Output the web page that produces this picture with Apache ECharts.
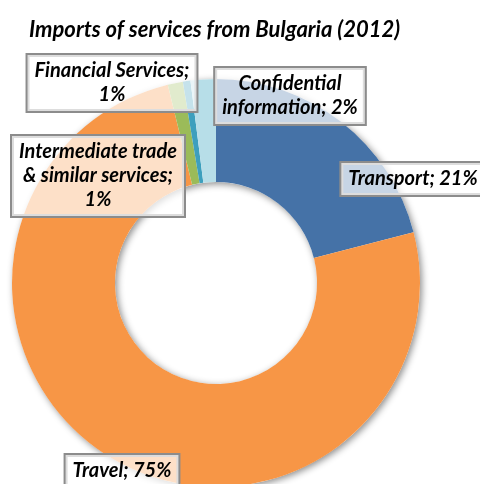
<!DOCTYPE html>
<html>
<head>
<meta charset="utf-8">
<script src="https://cdn.jsdelivr.net/npm/echarts@6/dist/echarts.min.js"></script>
<style>
  html, body { margin: 0; padding: 0; background: #fff; }
  #chart { width: 480px; height: 484px; }
</style>
</head>
<body>
<div id="chart"></div>
<script>
// slices, clockwise from 12 o'clock
const categories = ['Transport', 'Travel', 'Intermediate trade & similar services', 'Financial Services', 'Confidential information']
const shares = [21.0, 75.2, 1.2, 0.6, 2.0]
const colors = ['#4572a7', '#f79646', '#9bbb59', '#3d9fbd', '#b7dee8']

// label text as it is broken in the boxes
const labelText = {
  'Transport': 'Transport; {d}%',
  'Travel': 'Travel; {d}%',
  'Intermediate trade & similar services': 'Intermediate trade\n& similar services;\n{d}%',
  'Financial Services': 'Financial Services;\n{d}%',
  'Confidential information': 'Confidential\ninformation; {d}%'
}

// where each label box sits (box centre, px)
const labelPos = {
  'Transport': [413, 179],
  'Travel': [122, 471],
  'Intermediate trade & similar services': [98, 176],
  'Financial Services': [112, 83],
  'Confidential information': [290, 96]
}

const center = [216, 283]
const radius = [101, 204]

const chart = echarts.init(document.getElementById('chart'))

chart.setOption({
  animation: false,
  backgroundColor: '#fff',
  title: {
    text: 'Imports of services from Bulgaria (2012)',
    left: 24,
    top: 14,
    textStyle: {
      fontFamily: 'Lato',
      fontStyle: 'italic',
      fontWeight: 'bold',
      fontSize: 22,
      color: '#000'
    }
  },
  series: [
    {
      // drop shadow under the ring
      type: 'pie',
      silent: true,
      z: 1,
      center: center,
      radius: radius,
      label: {show: false},
      labelLine: {show: false},
      itemStyle: {
        color: '#fff',
        shadowColor: 'rgba(0, 0, 0, 0.45)',
        shadowBlur: 7,
        shadowOffsetX: 2,
        shadowOffsetY: 2
      },
      data: [{value: 1, name: ''}]
    },
    {
      type: 'pie',
      z: 2,
      center: center,
      radius: radius,
      startAngle: 90,
      clockwise: true,
      avoidLabelOverlap: false,
      percentPrecision: 0,
      color: colors,
      itemStyle: {borderWidth: 0},
      labelLine: {show: false},
      label: {
        show: true,
        position: 'outside',
        formatter: function (p) {
          return labelText[p.name].replace('{d}', p.percent)
        },
        fontFamily: 'Lato',
        fontStyle: 'italic',
        fontWeight: 'bold',
        fontSize: 20,
        lineHeight: 24,
        color: '#000',
        align: 'center',
        backgroundColor: 'rgba(255, 255, 255, 0.7)',
        borderColor: '#8c8c8c',
        borderWidth: 2,
        padding: [4, 7, 4, 7]
      },
      labelLayout: function (params) {
        const name = categories[params.dataIndex]
        const pos = labelPos[name]
        return {
          x: pos[0],
          y: pos[1],
          align: 'center',
          verticalAlign: 'middle'
        }
      },
      data: categories.map((name, i) => ({value: shares[i], name: name}))
    }
  ]
})
</script>
</body>
</html>
